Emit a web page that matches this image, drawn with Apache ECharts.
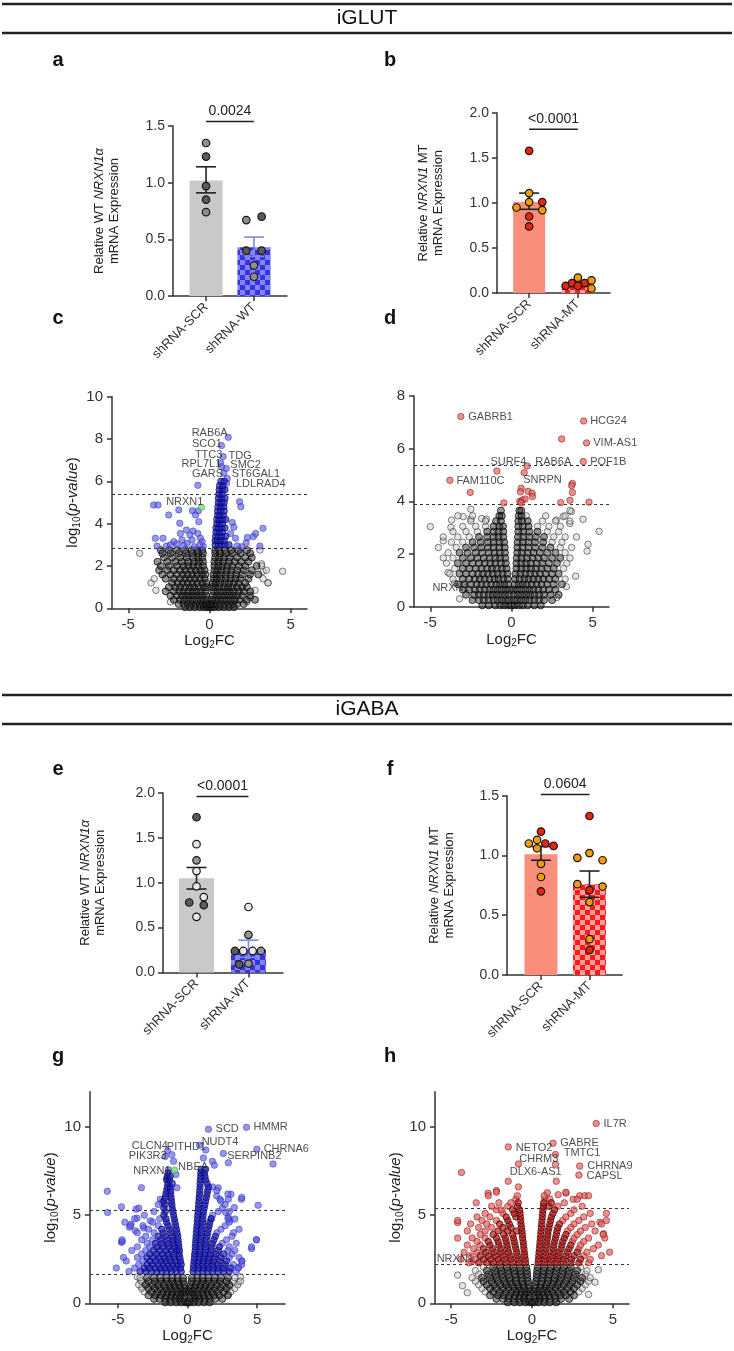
<!DOCTYPE html>
<html>
<head>
<meta charset="utf-8">
<script src="https://cdn.jsdelivr.net/npm/echarts@6/dist/echarts.min.js"></script>
<style>
html, body { margin: 0; padding: 0; background: #fff; }
#main { width: 734px; height: 1351px; }
</style>
</head>
<body>
<div id="main"></div>
<script>
var FONT = 'Liberation Sans, Arial, sans-serif';

// ---------- a : iGLUT WT knockdown
var aCats = ['shRNA-SCR', 'shRNA-WT'];
var aBars = [1.02, 0.43];
var aErr = [[0, 0.91, 1.14], [1, 0.35, 0.52]];
var aScrMid = [[0, 1.35], [0, 0.74]];
var aScrDark = [[0, 1.23], [0, 0.97], [0, 0.85]];
var aWtMid = [[0.84, 0.67], [1, 0.27], [1, 0.17]];
var aWtDark = [[1.16, 0.70], [0.84, 0.40], [1.16, 0.40]];
var aSig = [[0, 1, 1.54]];
var aP = '0.0024';

// ---------- b : iGLUT MT knockdown
var bCats = ['shRNA-SCR', 'shRNA-MT'];
var bBars = [1.01, 0.10];
var bErr = [[0, 0.93, 1.11], [1, 0.08, 0.12]];
var bScrRed = [[0, 1.58], [0.27, 1.01], [0, 0.85], [0, 0.74]];
var bScrOrange = [[0, 1.11], [0, 1.01], [-0.26, 0.95], [0.27, 0.92]];
var bMtRed = [[0.75, 0.08], [0.88, 0.11], [1.14, 0.11], [1, 0.08]];
var bMtOrange = [[1, 0.17], [1.28, 0.14], [1.28, 0.05]];
var bSig = [[0, 1, 1.82]];
var bP = '<0.0001';

// ---------- e : iGABA WT knockdown
var eCats = ['shRNA-SCR', 'shRNA-WT'];
var eBars = [1.05, 0.26];
var eErr = [[0, 0.93, 1.17], [1, 0.17, 0.36]];
var eScrDark = [[0, 1.73], [-0.14, 0.78], [0.14, 0.75]];
var eScrMid = [[0, 1.25]];
var eScrWhite = [[0, 1.43], [0, 1.13], [0, 0.96], [0.14, 0.84], [0, 0.62]];
var eWtDark = [[0.74, 0.24], [0.82, 0.09]];
var eWtMid = [[1, 0.42], [1.24, 0.24], [1, 0.10]];
var eWtWhite = [[1, 0.73], [0.9, 0.24], [1.08, 0.24]];
var eSig = [[0, 1, 1.96]];
var eP = '<0.0001';

// ---------- f : iGABA MT knockdown
var fCats = ['shRNA-SCR', 'shRNA-MT'];
var fBars = [1.01, 0.76];
var fErr = [[0, 0.96, 1.075], [1, 0.65, 0.87]];
var fScrRed = [[0, 1.2], [0.09, 1.10], [0.26, 1.08], [0, 0.70]];
var fScrOrange = [[-0.25, 1.10], [-0.08, 1.13], [-0.08, 1.06], [0, 0.93], [0, 0.82]];
var fMtRed = [[1, 1.33], [1, 0.71], [1, 0.21]];
var fMtOrange = [[1, 1.02], [0.75, 0.98], [1.27, 0.96], [0.75, 0.76], [1.27, 0.74], [1, 0.61], [1, 0.30]];
var fSig = [[0, 1, 1.51]];
var fP = '0.0604';

// ---------- c : iGLUT WT volcano  (rows: [log10p, [log2FC ...]])
var cGrayRows = [
  [0.05, [-1.5, -1.2, -0.9, -0.6, -0.35, -0.15, 0, 0.15, 0.35, 0.6, 0.9, 1.2, 1.5]],
  [0.2, [-1.9, -1.6, -1.35, -1.1, -0.85, -0.6, -0.4, -0.2, -0.05, 0.1, 0.25, 0.45, 0.7, 0.95, 1.2, 1.45, 1.7, 2.1]],
  [0.4, [-2.2, -1.8, -1.55, -1.3, -1.05, -0.8, -0.55, -0.35, -0.15, 0.15, 0.35, 0.55, 0.8, 1.05, 1.3, 1.55, 1.85, 2.3, 2.8]],
  [0.6, [-2.4, -2.0, -1.7, -1.45, -1.2, -0.95, -0.7, -0.45, -0.2, 0.2, 0.45, 0.7, 0.95, 1.2, 1.45, 1.7, 2.0, 2.5]],
  [0.8, [-2.7, -2.2, -1.85, -1.6, -1.3, -1.05, -0.8, -0.55, -0.25, 0.25, 0.5, 0.75, 1.0, 1.25, 1.5, 1.8, 2.1, 2.5]],
  [1.0, [-2.5, -2.1, -1.8, -1.5, -1.2, -0.95, -0.65, -0.35, -0.15, 0.15, 0.35, 0.6, 0.9, 1.15, 1.4, 1.7, 2.0, 2.3]],
  [1.2, [-2.3, -1.95, -1.65, -1.35, -1.05, -0.75, -0.45, -0.2, 0.2, 0.4, 0.65, 0.95, 1.2, 1.5, 1.8, 2.2]],
  [1.4, [-2.7, -2.2, -1.8, -1.5, -1.2, -0.9, -0.6, -0.3, 0.25, 0.45, 0.7, 1.0, 1.3, 1.6, 1.9, 2.4]],
  [1.6, [-2.9, -2.4, -2.0, -1.65, -1.35, -1.05, -0.75, -0.45, -0.25, 0.25, 0.45, 0.7, 1.0, 1.3, 1.65, 2.0, 2.5, 3.0]],
  [1.8, [-3.1, -2.6, -2.2, -1.8, -1.5, -1.15, -0.85, -0.55, -0.3, 0.3, 0.5, 0.75, 1.05, 1.35, 1.7, 2.1, 2.6]],
  [2.0, [-3.0, -2.5, -2.0, -1.6, -1.3, -1.0, -0.7, -0.4, 0.3, 0.55, 0.8, 1.1, 1.4, 1.8, 2.2, 2.9]],
  [2.2, [-3.2, -2.6, -2.1, -1.7, -1.3, -0.95, -0.65, -0.4, 0.3, 0.55, 0.85, 1.2, 1.55, 1.95, 2.4]],
  [2.4, [-2.8, -2.3, -1.8, -1.4, -1.0, -0.7, -0.45, 0.35, 0.6, 0.9, 1.25, 1.7, 2.2, 2.6]],
  [2.6, [-2.9, -2.4, -1.9, -1.45, -1.05, -0.7, -0.4, 0.35, 0.65, 1.0, 1.4, 1.9, 2.5]],
  [2.75, [-3.0, -2.5, -2.0, -1.5, -1.1, -0.75, -0.45, 0.35, 0.6, 0.95, 1.35, 1.8, 2.3]]
];
var cGrayOut = [[4.5, 1.75], [3.6, 1.2], [3.3, 1.75], [-3.3, 0.85], [2.5, 0.5], [2.3, 0.3], [-2.4, 0.3], [3.2, 2.1],
  [2.8, 0.85], [-4.3, 2.6], [-3.6, 1.2], [-3.4, 1.4], [3.6, 1.2], [3.3, 1.4], [3.5, 1.8], [3.1, 2.75], [3.2, 2.0]];
var cBlueRows = [
  [3.0, [0.35, 0.55, 0.75, 0.95, 1.2]],
  [3.2, [0.35, 0.5, 0.7, 0.9]],
  [3.4, [0.38, 0.55, 0.75, 1.0]],
  [3.6, [0.4, 0.6, 0.8]],
  [3.8, [0.4, 0.55, 0.75, 0.95]],
  [4.0, [0.45, 0.62, 0.8]],
  [4.2, [0.45, 0.6, 0.8, 1.0]],
  [4.4, [0.5, 0.65, 0.85]],
  [4.6, [0.5, 0.68, 0.9]],
  [4.8, [0.52, 0.7, 0.88]],
  [5.0, [0.55, 0.72, 0.9]],
  [5.2, [0.55, 0.75, 0.95]],
  [5.4, [0.58, 0.78]],
  [5.6, [0.6, 0.8, 0.95]],
  [5.8, [0.62, 0.82]],
  [6.0, [0.7, 0.9]]
];
var cBluePts = [[1.15, 8.08], [0.74, 7.69], [0.84, 7.17], [0.68, 6.88], [1.03, 6.61], [0.74, 6.69], [0.88, 6.38], [1.09, 6.14],
  [1.05, 5.91], [-0.72, 5.81], [-3.44, 4.88], [-3.17, 4.88], [-1.89, 4.65], [-2.51, 4.41], [-1.05, 4.61], [-0.7, 4.6],
  [-0.86, 4.41], [-0.66, 4.09], [-1.83, 4.02], [-1.42, 3.7], [-1.01, 3.65], [-0.72, 3.54], [-1.21, 3.46], [-3.33, 3.31],
  [-2.86, 3.31], [-1.79, 3.54], [-1.69, 3.23], [-2.2, 3.15], [-2.65, 2.94], [-3.23, 2.94], [-1.38, 3.07], [-1.07, 3.23],
  [-0.56, 3.31], [-0.45, 3.15], [-0.39, 2.91], [-0.93, 2.91], [-2.0, 3.04], [1.85, 5.04], [1.93, 4.8], [1.4, 4.05],
  [1.5, 3.83], [1.3, 3.54], [1.6, 3.31], [1.98, 2.91], [2.26, 3.1], [2.33, 3.35], [2.7, 3.39], [2.84, 3.54], [3.29, 3.78],
  [3.1, 2.94], [-2.4, 3.0], [-1.6, 2.95], [-0.6, 3.0], [1.7, 2.95]];
var cGreen = [[-0.49, 4.77]];
var cCut = [5.38, 2.85];
var cLabels = [['RAB6A', -1.13, 8.28], ['SCO1', -1.11, 7.76], ['TTC3', -0.93, 7.24], ['TDG', 1.14, 7.19],
  ['RPL7L1', -1.75, 6.82], ['SMC2', 1.25, 6.77], ['GARS', -1.11, 6.34], ['ST6GAL1', 1.34, 6.34],
  ['LDLRAD4', 1.6, 5.87], ['NRXN1', -2.7, 5.02]];

// ---------- d : iGLUT MT volcano
var dGrayRows = [
  [0.05, [-1.8, -1.4, -1.0, -0.7, -0.45, -0.2, 0, 0.2, 0.45, 0.7, 1.0, 1.4, 1.8]],
  [0.25, [-2.4, -2.0, -1.7, -1.4, -1.1, -0.85, -0.6, -0.35, -0.15, 0.15, 0.35, 0.6, 0.85, 1.1, 1.4, 1.7, 2.0, 2.5]],
  [0.45, [-2.8, -2.3, -2.0, -1.7, -1.4, -1.15, -0.9, -0.65, -0.4, -0.15, 0.15, 0.4, 0.65, 0.9, 1.15, 1.4, 1.7, 2.0, 2.4, 2.9]],
  [0.65, [-3.0, -2.6, -2.25, -1.95, -1.65, -1.35, -1.1, -0.85, -0.6, -0.35, -0.12, 0.12, 0.35, 0.6, 0.85, 1.1, 1.35, 1.65, 1.95, 2.3, 2.7]],
  [0.85, [-3.3, -2.9, -2.5, -2.15, -1.85, -1.55, -1.25, -0.95, -0.7, -0.45, -0.2, 0.2, 0.45, 0.7, 0.95, 1.25, 1.55, 1.85, 2.2, 2.6, 3.1]],
  [1.05, [-3.0, -2.6, -2.25, -1.95, -1.65, -1.35, -1.05, -0.8, -0.5, -0.22, 0.22, 0.5, 0.8, 1.05, 1.35, 1.65, 1.95, 2.3, 2.7]],
  [1.25, [-3.2, -2.8, -2.4, -2.05, -1.75, -1.45, -1.15, -0.85, -0.55, -0.25, 0.25, 0.55, 0.85, 1.15, 1.45, 1.75, 2.1, 2.5, 2.9]],
  [1.45, [-3.0, -2.6, -2.2, -1.85, -1.5, -1.2, -0.9, -0.6, -0.3, 0.3, 0.6, 0.9, 1.2, 1.5, 1.85, 2.2, 2.6]],
  [1.65, [-3.3, -2.8, -2.4, -2.0, -1.65, -1.3, -1.0, -0.65, -0.35, 0.3, 0.6, 0.9, 1.2, 1.55, 1.9, 2.3, 2.8]],
  [1.85, [-3.0, -2.5, -2.1, -1.7, -1.35, -1.0, -0.7, -0.38, 0.32, 0.62, 0.95, 1.3, 1.65, 2.0, 2.5, 3.0]],
  [2.05, [-3.2, -2.7, -2.2, -1.8, -1.4, -1.05, -0.72, -0.4, 0.35, 0.65, 1.0, 1.35, 1.75, 2.2, 2.7]],
  [2.25, [-2.8, -2.3, -1.85, -1.45, -1.1, -0.75, -0.42, 0.36, 0.68, 1.05, 1.45, 1.9, 2.4]],
  [2.45, [-2.4, -1.9, -1.45, -1.1, -0.75, -0.45, 0.38, 0.7, 1.05, 1.45, 1.95]],
  [2.65, [-2.0, -1.5, -1.1, -0.8, -0.5, 0.4, 0.72, 1.1, 1.5, 2.0]],
  [2.85, [-1.5, -1.1, -0.8, -0.5, 0.42, 0.72, 1.1, 1.6]],
  [3.05, [-1.1, -0.75, -0.52, 0.42, 0.7, 1.05]],
  [3.25, [-0.95, -0.65, 0.42, 0.65, 1.0]],
  [3.45, [-0.75, -0.6, 0.45, 0.62]],
  [3.65, [-0.65, 0.48, 0.6]]
];
var dGrayOut = [[-3.69, 3.29], [-2.97, 3.42], [-2.5, 3.7], [-3.73, 3.01], [-5.0, 3.04], [5.39, 2.86], [4.71, 2.37],
  [4.65, 2.11], [3.95, 1.16], [3.38, 0.76], [2.8, 0.35], [-2.5, 3.32], [-1.84, 3.35], [-1.54, 3.32], [2.77, 3.29],
  [3.18, 3.42], [3.59, 3.16], [3.69, 3.61], [4.4, 3.32], [-4.2, 2.5], [-3.9, 1.3], [-3.5, 0.9], [-3.2, 0.3],
  [-3.6, 1.05], [-3.8, 1.25], [-3.5, 1.45], [-4.0, 1.65], [-3.6, 1.85], [-4.2, 1.85], [-3.9, 2.05], [-4.5, 2.25],
  [-3.4, 2.25], [-3.7, 2.45], [-3.0, 2.45], [-4.2, 2.65], [-3.3, 2.65], [-2.6, 2.65], [-3.6, 2.85], [-2.8, 2.85],
  [-2.1, 2.85], [-3.0, 3.05], [-2.2, 3.05], [-1.6, 3.05], [-2.5, 3.25], [-1.6, 3.25], [-3.3, 3.45], [-2.4, 3.45],
  [3.3, 1.05], [3.4, 1.65], [3.2, 1.45], [3.6, 1.85], [3.3, 2.05], [3.0, 2.25], [3.7, 2.25], [2.5, 2.45], [3.1, 2.45],
  [2.6, 2.65], [3.3, 2.65], [4.0, 2.65], [2.2, 2.85], [2.9, 2.85], [1.6, 3.05], [2.3, 3.05], [3.0, 3.05],
  [1.9, 3.25], [2.7, 3.25], [3.6, 3.25], [0.9, 3.45], [2.1, 3.45], [3.3, 3.45], [3.6, 3.65]];
var dRed = [[-3.12, 7.22], [4.44, 7.05], [3.09, 6.37], [4.62, 6.22], [4.42, 5.51], [0.96, 5.34], [-0.9, 5.15], [0.78, 5.09],
  [-3.79, 4.8], [-2.54, 4.34], [3.75, 4.68], [3.7, 4.6], [3.75, 4.34], [0.6, 4.5], [0.55, 4.36], [1.02, 4.38], [1.27, 4.31],
  [1.29, 4.18], [0.51, 4.0], [0.67, 4.05], [0.84, 4.09], [0.59, 3.95], [3.03, 3.95], [3.6, 4.04], [4.77, 3.97], [-0.47, 3.94]];
var dCut = [5.38, 3.9];
var dLabels = [['GABRB1', -2.69, 7.2], ['HCG24', 4.81, 7.05], ['VIM-AS1', 5.0, 6.22], ['POF1B', 4.81, 5.51],
  ['RAB6A', 1.43, 5.5], ['SURF4', -1.33, 5.5], ['SNRPN', 0.69, 4.81], ['FAM110C', -3.42, 4.78], ['NRXN1', -4.9, 0.71]];

// ---------- g : iGABA WT volcano
var gGrayRows = [
  [0.05, [-1.6, -1.2, -0.8, -0.45, -0.15, 0, 0.15, 0.45, 0.8, 1.2, 1.6]],
  [0.25, [-2.4, -2.0, -1.6, -1.25, -0.9, -0.6, -0.3, 0.3, 0.6, 0.9, 1.25, 1.6, 2.0, 2.5]],
  [0.45, [-2.8, -2.3, -1.9, -1.5, -1.15, -0.8, -0.5, -0.2, 0.2, 0.5, 0.8, 1.15, 1.5, 1.9, 2.3, 2.9]],
  [0.65, [-2.6, -2.15, -1.75, -1.4, -1.05, -0.7, -0.35, -0.12, 0.12, 0.35, 0.7, 1.05, 1.4, 1.75, 2.15, 2.6]],
  [0.85, [-2.8, -2.35, -1.95, -1.55, -1.2, -0.85, -0.5, -0.2, 0.2, 0.5, 0.85, 1.2, 1.55, 1.95, 2.35, 2.8]],
  [1.05, [-3.0, -2.5, -2.1, -1.7, -1.3, -0.95, -0.6, -0.25, 0.25, 0.6, 0.95, 1.3, 1.7, 2.1, 2.5, 3.0]],
  [1.25, [-2.8, -2.35, -1.9, -1.5, -1.1, -0.7, -0.3, 0.3, 0.7, 1.1, 1.5, 1.9, 2.35, 2.8]],
  [1.45, [-2.9, -2.4, -1.95, -1.5, -1.1, -0.7, -0.32, 0.32, 0.7, 1.1, 1.5, 1.95, 2.4, 2.9]]
];
var gGrayOut = [[-3.38, 1.31], [-3.26, 0.94], [2.93, 0.52], [3.64, 1.22], [3.05, 0.94], [-3.6, 1.5], [3.8, 1.5],
  [-3.1, 0.65], [3.1, 0.65], [-3.3, 0.85], [3.4, 0.85], [-3.5, 1.05], [3.6, 1.05], [-3.3, 1.25], [3.3, 1.25],
  [3.8, 1.25], [-3.4, 1.45], [3.4, 1.45]];
var gBlueRows = [
  [1.8, [-3.4, -3.0, -2.6, -2.2, -1.85, -1.5, -1.15, -0.8, -0.45, 0.4, 0.75, 1.1, 1.45, 1.8, 2.2, 2.6, 3.0]],
  [2.0, [-3.1, -2.7, -2.3, -1.95, -1.6, -1.25, -0.9, -0.5, 0.42, 0.8, 1.15, 1.5, 1.85, 2.2, 2.6, 3.1]],
  [2.2, [-2.9, -2.5, -2.1, -1.75, -1.4, -1.05, -0.7, -0.45, 0.45, 0.75, 1.1, 1.45, 1.8, 2.2, 2.7]],
  [2.4, [-2.7, -2.3, -1.9, -1.55, -1.2, -0.85, -0.5, 0.47, 0.8, 1.15, 1.5, 1.85, 2.3, 2.8]],
  [2.6, [-2.9, -2.45, -2.05, -1.65, -1.3, -0.95, -0.55, 0.5, 0.85, 1.2, 1.55, 1.95, 2.4]],
  [2.8, [-2.7, -2.2, -1.8, -1.4, -1.0, -0.6, 0.52, 0.88, 1.25, 1.65, 2.05, 2.6]],
  [3.0, [-2.45, -2.0, -1.55, -1.15, -0.75, -0.58, 0.55, 0.9, 1.3, 1.7, 2.2]],
  [3.2, [-2.2, -1.75, -1.35, -0.95, -0.62, 0.56, 0.9, 1.3, 1.75, 2.3]],
  [3.4, [-2.3, -1.85, -1.4, -1.0, -0.65, 0.58, 0.92, 1.3, 1.8]],
  [3.6, [-1.95, -1.5, -1.05, -0.68, 0.6, 0.95, 1.35, 1.9]],
  [3.8, [-2.1, -1.6, -1.1, -0.7, 0.62, 0.98, 1.4, 2.0]],
  [4.0, [-1.75, -1.2, -0.75, 0.64, 1.0, 1.45]],
  [4.2, [-1.85, -1.3, -0.8, 0.66, 1.0, 1.5]],
  [4.4, [-1.4, -0.85, 0.68, 1.05, 1.55]],
  [4.6, [-1.5, -0.9, 0.7, 1.08, 1.6]],
  [4.8, [-1.55, -0.95, 0.72, 1.1, 1.7]],
  [5.0, [-1.7, -1.0, 0.74, 1.12]],
  [5.2, [-1.6, -1.05, 0.76, 1.15]],
  [5.4, [-1.7, -1.1, 0.78, 1.2]],
  [5.6, [-1.6, -1.12, 0.8, 1.25]],
  [5.8, [-1.7, -1.15, 0.82, 1.3]],
  [6.0, [-1.6, -1.18, 0.84, 1.35]],
  [6.2, [-1.55, -1.2, 0.86, 1.4]],
  [6.4, [-1.5, -1.22, 0.88, 1.45]],
  [6.6, [-1.45, -1.25, 0.9, 1.5]],
  [6.8, [-1.4, -1.1, 0.9, 1.4]],
  [7.0, [-1.5, -1.3, 0.92, 1.3]],
  [7.2, [-1.45, -1.25, 0.95, 1.25]],
  [7.4, [-1.4, 0.95, 1.2]],
  [7.6, [0.98, 1.3]]
];
var gBluePts = [[1.5, 9.87], [4.24, 9.98], [1.31, 8.69], [4.98, 8.74], [2.57, 8.5], [2.93, 7.97], [6.14, 7.9], [-1.43, 8.65],
  [-1.6, 8.33], [-1.36, 7.56], [0.86, 8.97], [1.14, 8.24], [1.79, 8.05], [1.93, 7.83], [-1.12, 8.43], [-1.0, 8.05],
  [-0.83, 7.3], [-1.48, 7.08], [-0.76, 6.55], [2.21, 6.55], [2.1, 6.09], [2.33, 5.9], [2.93, 5.9], [3.12, 6.18],
  [3.36, 5.43], [2.74, 5.15], [3.05, 4.72], [3.4, 4.78], [-3.69, 5.34], [-3.62, 4.83], [-4.05, 4.49], [-4.17, 4.31],
  [-2.67, 4.68], [-3.14, 4.27], [-4.74, 3.46], [-3.74, 4.12], [-1.95, 5.9], [-1.83, 5.71], [-5.76, 6.35], [-5.74, 5.15],
  [-4.74, 5.47], [-5.11, 2.0], [-4.69, 3.5], [-3.31, 6.56], [5.07, 5.56], [4.95, 3.61], [4.6, 3.1], [3.87, 5.9],
  [2.93, 4.87], [3.3, 4.0], [3.9, 2.4], [3.66, 2.05], [-4.2, 1.8], [3.5, 1.8], [-3.8, 2.0], [3.66, 2.0], [-3.5, 2.2],
  [3.3, 2.2], [3.9, 2.2], [-4.4, 2.4], [-3.2, 2.4], [3.9, 2.4], [-4.6, 2.6], [-3.6, 2.6], [3.0, 2.6], [3.7, 2.6],
  [-3.3, 2.8], [3.2, 2.8], [-4.0, 3.0], [-3.0, 3.0], [2.9, 3.0], [3.4, 3.0], [-3.6, 3.2], [-2.7, 3.2], [3.0, 3.2],
  [4.6, 3.2], [-2.9, 3.4], [2.5, 3.4], [3.5, 3.4], [-4.7, 3.6], [-3.3, 3.6], [-2.5, 3.6], [2.8, 3.6], [4.95, 3.6],
  [-3.0, 3.8], [3.2, 3.8], [-3.6, 4.0], [-2.4, 4.0], [2.1, 4.0], [-2.8, 4.2], [2.4, 4.2], [3.7, 4.2], [-4.1, 4.4],
  [-3.2, 4.4], [-2.1, 4.4], [2.7, 4.4], [-4.5, 4.6], [-2.5, 4.6], [3.0, 4.6], [-3.8, 4.8], [-2.0, 4.8], [2.9, 4.8],
  [1.7, 4.8], [-3.1, 5.0], [1.8, 5.0], [-2.4, 5.2], [2.2, 5.2], [3.0, 5.2], [-3.5, 5.4], [2.5, 5.4], [-2.1, 5.6],
  [2.7, 5.6], [2.4, 5.8], [3.9, 6.0], [2.9, 6.2], [2.1, 6.4], [1.8, 6.6]];
var gGreen = [[-0.93, 7.56]];
var gCut = [5.3, 1.65];
var gLabels = [['SCD', 1.98, 9.87], ['HMMR', 4.71, 9.98], ['NUDT4', 0.98, 9.17], ['CHRNA6', 5.43, 8.76],
  ['SERPINB2', 2.81, 8.33], ['CLCN4', -4.04, 8.95], ['PITHD1', -1.52, 8.89], ['PIK3R3', -4.26, 8.33],
  ['NRXN1', -3.93, 7.49], ['NBEA', -0.71, 7.71]];

// ---------- h : iGABA MT volcano
var hGrayRows = [
  [0.05, [-1.5, -1.1, -0.75, -0.4, -0.15, 0, 0.15, 0.4, 0.75, 1.1, 1.5]],
  [0.25, [-2.2, -1.8, -1.45, -1.1, -0.8, -0.5, -0.25, 0.25, 0.5, 0.8, 1.1, 1.45, 1.8, 2.3]],
  [0.45, [-2.6, -2.1, -1.75, -1.4, -1.05, -0.75, -0.45, -0.18, 0.18, 0.45, 0.75, 1.05, 1.4, 1.75, 2.1, 2.6]],
  [0.65, [-2.4, -2.0, -1.6, -1.25, -0.95, -0.65, -0.35, -0.12, 0.12, 0.35, 0.65, 0.95, 1.25, 1.6, 2.0, 2.4]],
  [0.85, [-2.6, -2.2, -1.8, -1.45, -1.1, -0.8, -0.5, -0.2, 0.2, 0.5, 0.8, 1.1, 1.45, 1.8, 2.2, 2.6]],
  [1.05, [-2.8, -2.35, -1.95, -1.6, -1.25, -0.9, -0.55, -0.22, 0.22, 0.55, 0.9, 1.25, 1.6, 1.95, 2.35, 2.8]],
  [1.25, [-3.0, -2.5, -2.1, -1.7, -1.35, -1.0, -0.6, -0.25, 0.25, 0.6, 1.0, 1.35, 1.7, 2.1, 2.5, 3.0]],
  [1.45, [-3.1, -2.6, -2.2, -1.8, -1.4, -1.0, -0.65, -0.28, 0.28, 0.65, 1.0, 1.4, 1.8, 2.2, 2.6, 3.1]],
  [1.65, [-2.7, -2.25, -1.85, -1.45, -1.05, -0.7, -0.3, 0.3, 0.7, 1.05, 1.45, 1.85, 2.25, 2.7]],
  [1.85, [-2.8, -2.3, -1.9, -1.5, -1.1, -0.72, -0.32, 0.32, 0.72, 1.1, 1.5, 1.9, 2.3, 2.8]],
  [2.05, [-2.4, -1.95, -1.55, -1.15, -0.75, -0.35, 0.35, 0.75, 1.15, 1.55, 1.95, 2.4]]
];
var hGrayOut = [[-4.3, 1.0], [-4.0, 0.6], [3.9, 1.2], [3.5, 0.5], [-4.6, 1.6], [4.1, 1.9], [-2.9, 0.65], [2.9, 0.65],
  [-3.1, 0.85], [3.1, 0.85], [-3.3, 1.05], [3.3, 1.05], [-3.5, 1.25], [3.5, 1.25], [-3.7, 1.45], [3.6, 1.45],
  [-3.3, 1.65], [3.3, 1.65], [-3.5, 1.85], [3.4, 1.85], [-3.0, 2.05], [3.0, 2.05]];
var hRedRows = [
  [2.3, [-3.3, -2.8, -2.4, -2.0, -1.6, -1.2, -0.8, -0.4, 0.38, 0.78, 1.15, 1.55, 1.95, 2.4, 2.9]],
  [2.5, [-3.0, -2.55, -2.1, -1.7, -1.3, -0.85, -0.42, 0.4, 0.8, 1.2, 1.6, 2.0, 2.45, 3.0]],
  [2.7, [-3.2, -2.7, -2.25, -1.8, -1.35, -0.9, -0.45, 0.42, 0.82, 1.25, 1.65, 2.1, 2.6]],
  [2.9, [-2.85, -2.35, -1.9, -1.45, -0.95, -0.48, 0.44, 0.85, 1.3, 1.7, 2.2, 2.8]],
  [3.1, [-3.0, -2.45, -1.95, -1.5, -1.0, -0.5, 0.46, 0.88, 1.32, 1.8, 2.3]],
  [3.3, [-2.6, -2.05, -1.55, -1.05, -0.52, 0.48, 0.9, 1.35, 1.85, 2.4]],
  [3.5, [-2.7, -2.1, -1.6, -1.1, -0.55, 0.5, 0.92, 1.4, 1.9]],
  [3.7, [-2.2, -1.65, -1.15, -0.58, 0.52, 0.95, 1.45, 2.0]],
  [3.9, [-2.4, -1.75, -1.2, -0.6, 0.54, 0.98, 1.5, 2.1]],
  [4.1, [-2.1, -1.5, -0.95, -0.62, 0.56, 1.0, 1.55]],
  [4.3, [-1.8, -1.3, -0.65, 0.58, 1.05, 1.6]],
  [4.5, [-2.0, -1.4, -0.68, 0.6, 1.1, 1.7]],
  [4.7, [-1.5, -0.7, 0.62, 1.15]],
  [4.9, [-1.6, -1.0, -0.72, 0.64, 1.2]],
  [5.1, [-1.1, -0.74, 0.66, 1.3]],
  [5.3, [-1.2, -0.76, 0.68, 1.4]],
  [5.5, [-0.9, 0.7, 1.05]],
  [5.7, [-0.85, 0.72, 1.2]]
];
var hRedPts = [[3.97, 10.2], [-1.47, 8.87], [1.3, 9.08], [1.45, 8.44], [-0.84, 7.9], [1.45, 7.88], [2.95, 7.78], [2.9, 7.27],
  [-4.36, 7.42], [-1.47, 6.92], [-0.84, 6.6], [1.5, 6.92], [-2.2, 6.39], [-2.72, 6.24], [0.95, 6.27], [1.62, 6.16],
  [2.1, 6.25], [2.55, 5.9], [2.95, 6.1], [3.26, 6.1], [-4.6, 4.58], [4.6, 5.1], [4.43, 3.95], [4.8, 2.9], [4.2, 4.6],
  [-3.75, 2.35], [-3.9, 2.3], [3.5, 2.3], [-4.4, 2.5], [-3.5, 2.5], [3.6, 2.5], [-3.8, 2.7], [3.2, 2.7], [4.3, 2.7],
  [-4.2, 2.9], [-3.4, 2.9], [3.4, 2.9], [-3.6, 3.1], [2.9, 3.1], [3.8, 3.1], [-4.0, 3.3], [-3.2, 3.3], [3.0, 3.3],
  [4.1, 3.3], [-3.4, 3.5], [2.5, 3.5], [3.2, 3.5], [-4.6, 3.7], [-3.7, 3.7], [-2.9, 3.7], [2.6, 3.7], [3.5, 3.7],
  [4.5, 3.7], [-3.2, 3.9], [2.8, 3.9], [4.4, 3.9], [-4.0, 4.1], [-2.9, 4.1], [2.2, 4.1], [3.0, 4.1], [3.9, 4.1],
  [-3.3, 4.3], [-2.5, 4.3], [2.4, 4.3], [3.3, 4.3], [-3.8, 4.5], [-2.8, 4.5], [2.6, 4.5], [3.7, 4.5], [4.3, 4.5],
  [-4.6, 4.7], [-3.1, 4.7], [-2.2, 4.7], [1.9, 4.7], [2.9, 4.7], [4.6, 4.7], [-3.4, 4.9], [-2.6, 4.9], [2.1, 4.9],
  [3.2, 4.9], [-2.9, 5.1], [-1.8, 5.1], [2.4, 5.1], [3.6, 5.1], [-2.2, 5.3], [-1.9, 5.3], [2.6, 5.3], [-2.5, 5.5],
  [-1.5, 5.5], [1.6, 5.5], [3.1, 5.5], [-3.45, 5.7], [-2.05, 5.7], [-1.3, 5.7], [2.0, 5.7], [-1.0, 5.9], [0.8, 5.9],
  [1.1, 5.9], [2.8, 5.9], [-2.7, 6.1], [-0.9, 6.1], [0.75, 6.1], [3.5, 6.1], [-2.2, 6.3], [2.1, 6.3]];
var hCut = [5.39, 2.2];
var hLabels = [['IL7R', 4.39, 10.19], ['NETO2', -1.03, 8.83], ['GABRE', 1.72, 9.08], ['CHRM3', -0.82, 8.18],
  ['TMTC1', 1.93, 8.5], ['CHRNA9', 3.39, 7.76], ['CAPSL', 3.34, 7.24], ['DLX6-AS1', -1.41, 7.42], ['NRXN1', -5.93, 2.54]];

// ---------------------------------------------------------------
function flatRows(rows) {
  var out = [];
  for (var i = 0; i < rows.length; i++) {
    for (var j = 0; j < rows[i][1].length; j++) {
      out.push([rows[i][1][j], rows[i][0]]);
    }
  }
  return out;
}

function checker(c1, c2, s) {
  var cv = document.createElement('canvas');
  cv.width = cv.height = 2 * s;
  var ctx = cv.getContext('2d');
  ctx.fillStyle = c1;
  ctx.fillRect(0, 0, 2 * s, 2 * s);
  ctx.fillStyle = c2;
  ctx.fillRect(0, 0, s, s);
  ctx.fillRect(s, s, s, s);
  return { image: cv, repeat: 'repeat' };
}

var option = {
  animation: false,
  backgroundColor: '#fff',
  textStyle: { fontFamily: FONT },
  grid: [], xAxis: [], yAxis: [], series: [], graphic: []
};

function addGrid(g, xa, ya) {
  var gi = option.grid.length;
  option.grid.push(g);
  xa.gridIndex = gi;
  ya.gridIndex = gi;
  option.xAxis.push(xa);
  option.yAxis.push(ya);
  return gi;
}

var axisLn = { show: true, onZero: false, lineStyle: { color: '#333', width: 1.5 } };
var axisTk = { show: true, length: 5, lineStyle: { color: '#333', width: 1.5 } };

function errRender(colors) {
  return function (params, api) {
    var x = api.value(0);
    var lo = api.coord([x, api.value(1)]);
    var hi = api.coord([x, api.value(2)]);
    var w = 10;
    var st = { stroke: colors[params.dataIndex], lineWidth: 1.6 };
    return {
      type: 'group', children: [
        { type: 'line', shape: { x1: lo[0], y1: lo[1], x2: hi[0], y2: hi[1] }, style: st },
        { type: 'line', shape: { x1: lo[0] - w, y1: lo[1], x2: lo[0] + w, y2: lo[1] }, style: st },
        { type: 'line', shape: { x1: hi[0] - w, y1: hi[1], x2: hi[0] + w, y2: hi[1] }, style: st }
      ]
    };
  };
}

function sigRender(text) {
  return function (params, api) {
    var p0 = api.coord([api.value(0), api.value(2)]);
    var p1 = api.coord([api.value(1), api.value(2)]);
    return {
      type: 'group', children: [
        { type: 'line', shape: { x1: p0[0], y1: p0[1], x2: p1[0], y2: p1[1] }, style: { stroke: '#222', lineWidth: 1.5 } },
        { type: 'text', x: (p0[0] + p1[0]) / 2, y: p0[1] - 3,
          style: { text: text, fontSize: 14, fontFamily: FONT, fill: '#222', align: 'center', verticalAlign: 'bottom' } }
      ]
    };
  };
}

function dots(gi, data, fill) {
  option.series.push({
    type: 'scatter', xAxisIndex: gi, yAxisIndex: gi, data: data, symbolSize: 7.5, z: 5,
    itemStyle: { color: fill, borderColor: '#151515', borderWidth: 1.2, opacity: 1 }
  });
}

function barPanel(p) {
  var gi = addGrid({ left: p.left, top: p.top, width: p.width, height: p.height },
    {
      type: 'value', min: p.xmin, max: p.xmax, axisLine: axisLn, splitLine: { show: false },
      axisTick: { show: true, length: 5, lineStyle: { color: '#333', width: 1.5 }, customValues: [0, 1] },
      axisLabel: { customValues: [0, 1], rotate: 45, fontSize: 13, color: '#333', margin: 9, fontFamily: FONT,
        formatter: function (v) { return p.cats[Math.round(v)]; } }
    },
    {
      type: 'value', min: 0, max: p.ymax, interval: 0.5, axisLine: axisLn, axisTick: axisTk, splitLine: { show: false },
      axisLabel: { fontSize: 14, color: '#333', fontFamily: FONT, margin: 8, formatter: function (v) { return v.toFixed(1); } },
      name: p.yname, nameLocation: 'middle', nameRotate: 90, nameGap: p.nameGap,
      nameTextStyle: { fontSize: 13, color: '#222', lineHeight: 15, fontFamily: FONT,
        rich: { i: { fontStyle: 'italic', fontSize: 13, color: '#222', lineHeight: 15, fontFamily: FONT } } }
    });
  option.series.push({
    type: 'bar', xAxisIndex: gi, yAxisIndex: gi, barWidth: p.barWidth, z: 2,
    data: [{ value: [0, p.bars[0]], itemStyle: { color: p.c0 } }, { value: [1, p.bars[1]], itemStyle: { color: p.c1 } }]
  });
  option.series.push({
    type: 'custom', xAxisIndex: gi, yAxisIndex: gi, data: p.err, clip: false, z: 4,
    renderItem: errRender(p.errColors), encode: { x: 0, y: [1, 2] }
  });
  for (var k = 0; k < p.dots.length; k++) dots(gi, p.dots[k][0], p.dots[k][1]);
  option.series.push({
    type: 'custom', xAxisIndex: gi, yAxisIndex: gi, data: p.sig, clip: false, z: 6,
    renderItem: sigRender(p.pText), encode: { x: [0, 1], y: 2 }
  });
}

// styles: dense cores are darker than isolated points
var GRAY = { color: 'rgba(200,200,200,0.6)', borderColor: 'rgba(40,40,40,0.8)', borderWidth: 0.9 };
var GRAY_CORE = { color: 'rgba(35,35,35,0.6)', borderColor: 'rgba(0,0,0,0.9)', borderWidth: 1 };
var BLUE = { color: 'rgba(90,90,238,0.8)', borderColor: 'rgba(20,20,130,0.6)', borderWidth: 0.8 };
var BLUE_CORE = { color: 'rgba(30,30,200,0.85)', borderColor: 'rgba(0,0,70,0.85)', borderWidth: 0.9 };
var RED = { color: 'rgba(240,88,88,0.85)', borderColor: 'rgba(70,0,0,0.7)', borderWidth: 0.8 };
var RED_CORE = { color: 'rgba(190,20,20,0.85)', borderColor: 'rgba(35,0,0,0.9)', borderWidth: 0.9 };
var GREEN = { color: 'rgba(110,225,110,1)', borderColor: 'rgba(40,120,40,0.6)', borderWidth: 0.8 };

function volcano(p) {
  var gi = addGrid({ left: p.left, top: p.top, width: p.width, height: p.height },
    {
      type: 'value', min: p.xmin, max: p.xmax, axisLine: axisLn, splitLine: { show: false },
      axisTick: { show: true, length: 5, lineStyle: { color: '#333', width: 1.5 }, customValues: [-5, 0, 5] },
      axisLabel: { customValues: [-5, 0, 5], fontSize: 15, color: '#333', fontFamily: FONT, margin: 9 },
      name: 'Log{s|2}FC', nameLocation: 'middle', nameGap: 24,
      nameTextStyle: { fontSize: 15, color: '#222', fontFamily: FONT,
        rich: { s: { fontSize: 10, verticalAlign: 'bottom', padding: [8, 0, 0, 0], color: '#222', fontFamily: FONT } } }
    },
    {
      type: 'value', min: 0, max: p.ymax, axisLine: axisLn, splitLine: { show: false },
      axisTick: { show: true, length: 5, lineStyle: { color: '#333', width: 1.5 }, customValues: p.yTicks },
      axisLabel: { customValues: p.yTicks, fontSize: 15, color: '#333', fontFamily: FONT, margin: 9 },
      name: p.yname, nameLocation: 'middle', nameRotate: 90, nameGap: p.nameGap,
      nameTextStyle: { fontSize: 15, color: '#222', fontFamily: FONT,
        rich: {
          s: { fontSize: 10, verticalAlign: 'bottom', padding: [8, 0, 0, 0], color: '#222', fontFamily: FONT },
          i: { fontSize: 15, fontStyle: 'italic', color: '#222', fontFamily: FONT }
        } }
    });
  option.series.push({
    type: 'scatter', xAxisIndex: gi, yAxisIndex: gi, symbolSize: 6.5, z: 2,
    data: p.grayOut, itemStyle: GRAY,
    markLine: { silent: true, symbol: 'none', label: { show: false }, z: 1,
      lineStyle: { type: [3, 3], color: '#333', width: 1 },
      data: [{ yAxis: p.cut[0] }, { yAxis: p.cut[1] }] }
  });
  option.series.push({
    type: 'scatter', xAxisIndex: gi, yAxisIndex: gi, symbolSize: 7, z: 2,
    data: flatRows(p.grayRows), itemStyle: GRAY_CORE
  });
  option.series.push({
    type: 'scatter', xAxisIndex: gi, yAxisIndex: gi, symbolSize: 6.5, z: 3,
    data: p.hitPts, itemStyle: p.hitStyle
  });
  option.series.push({
    type: 'scatter', xAxisIndex: gi, yAxisIndex: gi, symbolSize: 6.5, z: 3,
    data: flatRows(p.hitRows), itemStyle: p.coreStyle
  });
  if (p.green) {
    option.series.push({ type: 'scatter', xAxisIndex: gi, yAxisIndex: gi, symbolSize: 6.5, z: 4, data: p.green, itemStyle: GREEN });
  }
  option.series.push({
    type: 'scatter', xAxisIndex: gi, yAxisIndex: gi, symbolSize: 1, z: 6, itemStyle: { color: 'rgba(0,0,0,0)' },
    data: p.labels.map(function (l) { return { name: l[0], value: [l[1], l[2]] }; }),
    label: { show: true, position: 'right', distance: 0, formatter: '{b}', fontSize: 11, color: '#222', fontFamily: FONT }
  });
}

// ----- bar panels
barPanel({ left: 173, top: 126, width: 114, height: 170, xmin: -0.69, xmax: 1.69, ymax: 1.5, cats: aCats,
  yname: 'Relative WT {i|NRXN1α}\nmRNA Expression', nameGap: 51, barWidth: 33, bars: aBars,
  c0: '#c9c9c9', c1: checker('#3434e4', '#8585f0', 5), err: aErr, errColors: ['#222', '#7f86f6'],
  dots: [[aScrMid, '#8e8e8e'], [aScrDark, '#5b5b5b'], [aWtMid, '#8e8e8e'], [aWtDark, '#5b5b5b']],
  sig: aSig, pText: aP });

barPanel({ left: 497, top: 113, width: 113, height: 180, xmin: -0.66, xmax: 1.66, ymax: 2.0, cats: bCats,
  yname: 'Relative {i|NRXN1} MT\nmRNA Expression', nameGap: 51, barWidth: 32, bars: bBars,
  c0: '#fb8e7b', c1: checker('#ff1a1a', '#ff9d9d', 5), err: bErr, errColors: ['#222', '#222'],
  dots: [[bScrRed, '#e8240c'], [bScrOrange, '#f59b0e'], [bMtRed, '#e8240c'], [bMtOrange, '#f59b0e']],
  sig: bSig, pText: bP });

barPanel({ left: 163, top: 793, width: 120, height: 179.5, xmin: -0.645, xmax: 1.665, ymax: 2.0, cats: eCats,
  yname: 'Relative WT {i|NRXN1α}\nmRNA Expression', nameGap: 55, barWidth: 35, bars: eBars,
  c0: '#c9c9c9', c1: checker('#3434e4', '#8585f0', 5), err: eErr, errColors: ['#222', '#7f86f6'],
  dots: [[eScrDark, '#5b5b5b'], [eScrMid, '#959595'], [eScrWhite, '#e8e8e8'], [eWtDark, '#5b5b5b'], [eWtMid, '#959595'], [eWtWhite, '#e8e8e8']],
  sig: eSig, pText: eP });

barPanel({ left: 507, top: 795.7, width: 115, height: 179.3, xmin: -0.7, xmax: 1.67, ymax: 1.5, cats: fCats,
  yname: 'Relative {i|NRXN1} MT\nmRNA Expression', nameGap: 50, barWidth: 33, bars: fBars,
  c0: '#fb8e7b', c1: checker('#ff1a1a', '#ff9d9d', 5), err: fErr, errColors: ['#222', '#222'],
  dots: [[fScrRed, '#e8240c'], [fScrOrange, '#f59b0e'], [fMtRed, '#e8240c'], [fMtOrange, '#f59b0e']],
  sig: fSig, pText: fP });

// ----- volcano panels
var yName = 'log{s|10}({i|p-value})';
volcano({ left: 112, top: 396.7, width: 195, height: 211.6, xmin: -6, xmax: 6, ymax: 10, yTicks: [0, 2, 4, 6, 8, 10],
  yname: yName, nameGap: 30, grayRows: cGrayRows, grayOut: cGrayOut, hitRows: cBlueRows, hitPts: cBluePts,
  hitStyle: BLUE, coreStyle: BLUE_CORE, green: cGreen, cut: cCut, labels: cLabels });
volcano({ left: 414, top: 396, width: 195, height: 210.7, xmin: -6, xmax: 6, ymax: 8, yTicks: [0, 2, 4, 6, 8],
  yname: '', nameGap: 28, grayRows: dGrayRows, grayOut: dGrayOut, hitRows: [], hitPts: dRed,
  hitStyle: RED, coreStyle: RED_CORE, green: null, cut: dCut, labels: dLabels });
volcano({ left: 90, top: 1091.7, width: 195, height: 211.6, xmin: -7, xmax: 7, ymax: 12, yTicks: [0, 5, 10],
  yname: yName, nameGap: 30, grayRows: gGrayRows, grayOut: gGrayOut, hitRows: gBlueRows, hitPts: gBluePts,
  hitStyle: BLUE, coreStyle: BLUE_CORE, green: gGreen, cut: gCut, labels: gLabels });
volcano({ left: 435, top: 1091.7, width: 194, height: 211.6, xmin: -6, xmax: 6, ymax: 12, yTicks: [0, 5, 10],
  yname: yName, nameGap: 30, grayRows: hGrayRows, grayOut: hGrayOut, hitRows: hRedRows, hitPts: hRedPts,
  hitStyle: RED, coreStyle: RED_CORE, green: null, cut: hCut, labels: hLabels });

// ----- section headers and panel letters
function hline(y) {
  return { type: 'line', shape: { x1: 2, y1: y, x2: 732, y2: y }, style: { stroke: '#222', lineWidth: 2.5 } };
}
function txt(x, y, t, size, bold) {
  return { type: 'text', x: x, y: y, style: { text: t, fontSize: size, fontWeight: bold ? 'bold' : 'normal',
    fontFamily: FONT, fill: '#111', align: 'center', verticalAlign: 'middle' } };
}
option.graphic = [
  hline(4), hline(33), txt(367, 18.5, 'iGLUT', 21, false),
  hline(695), hline(724), txt(367, 709.5, 'iGABA', 21, false),
  txt(58, 60, 'a', 20, true), txt(390, 60, 'b', 20, true),
  txt(58, 318, 'c', 20, true), txt(390, 318, 'd', 20, true),
  txt(58, 769, 'e', 20, true), txt(390, 769, 'f', 20, true),
  txt(58, 1056, 'g', 20, true), txt(390, 1056, 'h', 20, true)
];

var chart = echarts.init(document.getElementById('main'), null, { renderer: 'canvas' });
chart.setOption(option);
</script>
</body>
</html>
